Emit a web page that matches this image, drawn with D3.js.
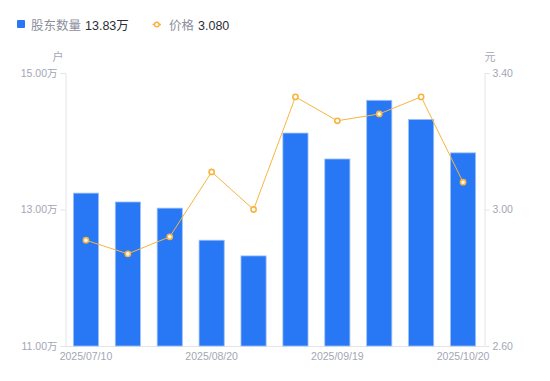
<!DOCTYPE html>
<html>
<head>
<meta charset="utf-8">
<script src="https://cdn.jsdelivr.net/npm/d3@7/dist/d3.min.js"></script>
<style>
  body { margin: 0; background: #fff; }
  svg text { font-family: "Liberation Sans", Arial, "Noto Sans CJK SC", sans-serif; }
</style>
</head>
<body>
<div id="chart"></div>
<script>
// dates (only every 3rd label is shown on the axis)
var dates = ["2025/07/10", "2025/07/20", "2025/07/31", "2025/08/20", "2025/08/29",
             "2025/09/10", "2025/09/19", "2025/09/30", "2025/10/10", "2025/10/20"];
// 股东数量, unit 万户
var holders = [13.24, 13.11, 13.02, 12.55, 12.32, 14.12, 13.74, 14.60, 14.32, 13.83];
// 价格, unit 元
var prices = [2.91, 2.87, 2.92, 3.11, 3.00, 3.33, 3.26, 3.28, 3.33, 3.08];
var holderTicks = [11, 13, 15];
var priceTicks = [2.6, 3.0, 3.4];

showChart("chart", 550, 381);

function showChart(container_id, width, height) {
	var margin = {top: 73, right: 66, bottom: 35, left: 65};
	var barColor = "#2878f5";
	var lineColor = "#f8b440";
	var axisColor = "#e3e4e8";
	var labelColor = "#a3a6b4";

	var svg = d3.select("#" + container_id)
				.append("svg")
				.attr("width", width)
				.attr("height", height);

	var x = d3.scaleBand()
				.domain(dates)
				.range([margin.left, width - margin.right])
				.paddingInner(0.4)
				.paddingOuter(0.2);
	var yL = d3.scaleLinear().domain([11, 15]).range([height - margin.bottom, margin.top]);
	var yR = d3.scaleLinear().domain([2.6, 3.4]).range([height - margin.bottom, margin.top]);

	// left axis
	var left = svg.append("g")
				.attr("transform", "translate(" + (margin.left + 0.5) + ",0)")
				.call(d3.axisLeft(yL).tickValues(holderTicks).tickSize(5).tickPadding(3)
					.tickFormat(function (d) { return d3.format(".2f")(d) + "万"; }));
	// right axis
	var right = svg.append("g")
				.attr("transform", "translate(" + (width - margin.right + 0.5) + ",0)")
				.call(d3.axisRight(yR).tickValues(priceTicks).tickSize(5).tickPadding(3)
					.tickFormat(d3.format(".2f")));
	// bottom axis
	var bottom = svg.append("g")
				.attr("transform", "translate(0," + (height - margin.bottom + 0.5) + ")")
				.call(d3.axisBottom(x).tickSize(0).tickPadding(6)
					.tickFormat(function (d, i) { return i % 3 === 0 ? d : ""; }));

	[left, right, bottom].forEach(function (g) {
		g.select(".domain").attr("stroke", axisColor);
		g.selectAll(".tick line").attr("stroke", axisColor);
		g.selectAll(".tick text").attr("fill", labelColor).attr("font-size", "10.5px");
	});
	bottom.select(".domain").attr("d", "M" + margin.left + ",0H" + (width - margin.right));

	// unit labels
	svg.append("text").attr("x", 58).attr("y", 61).attr("text-anchor", "middle")
		.attr("font-size", "11px").attr("fill", labelColor).text("户");
	svg.append("text").attr("x", 490).attr("y", 61).attr("text-anchor", "middle")
		.attr("font-size", "11px").attr("fill", labelColor).text("元");

	// bars
	svg.append("g").selectAll("rect")
		.data(holders)
		.enter()
		.append("rect")
		.attr("x", function (d, i) { return x(dates[i]); })
		.attr("y", function (d) { return yL(d); })
		.attr("width", x.bandwidth())
		.attr("height", function (d) { return yL(11) - yL(d); })
		.attr("fill", barColor)
		.attr("stroke", "#9cc0f9")
		.attr("stroke-width", 0.8);

	// price line
	var line = d3.line()
				.x(function (d, i) { return x(dates[i]) + x.bandwidth() / 2; })
				.y(function (d) { return yR(d); });
	svg.append("path")
		.datum(prices)
		.attr("d", line)
		.attr("fill", "none")
		.attr("stroke", lineColor)
		.attr("stroke-width", 1);
	svg.append("g").selectAll("circle")
		.data(prices)
		.enter()
		.append("circle")
		.attr("cx", function (d, i) { return x(dates[i]) + x.bandwidth() / 2; })
		.attr("cy", function (d) { return yR(d); })
		.attr("r", 2.6)
		.attr("fill", "#fff")
		.attr("stroke", lineColor)
		.attr("stroke-width", 1.6);

	// legend
	var legend = svg.append("g");
	legend.append("rect").attr("x", 17).attr("y", 20).attr("width", 8).attr("height", 8)
		.attr("rx", 1).attr("fill", barColor);
	legend.append("text").attr("x", 31).attr("y", 29.5).attr("font-size", "12.5px")
		.attr("fill", "#8c8f9c").text("股东数量");
	legend.append("text").attr("x", 85).attr("y", 29.5).attr("font-size", "12.5px")
		.attr("fill", "#2c2e36").text(d3.format(".2f")(holders[holders.length - 1]) + "万");

	legend.append("line").attr("x1", 152.5).attr("x2", 161).attr("y1", 24.5).attr("y2", 24.5)
		.attr("stroke", lineColor).attr("stroke-width", 1.5);
	legend.append("circle").attr("cx", 156.8).attr("cy", 24.5).attr("r", 2.3)
		.attr("fill", "#fff").attr("stroke", lineColor).attr("stroke-width", 1.5);
	legend.append("text").attr("x", 169).attr("y", 29.5).attr("font-size", "12.5px")
		.attr("fill", "#8c8f9c").text("价格");
	legend.append("text").attr("x", 198).attr("y", 29.5).attr("font-size", "12.5px")
		.attr("fill", "#2c2e36").text(d3.format(".3f")(prices[prices.length - 1]));
}
</script>
</body>
</html>
